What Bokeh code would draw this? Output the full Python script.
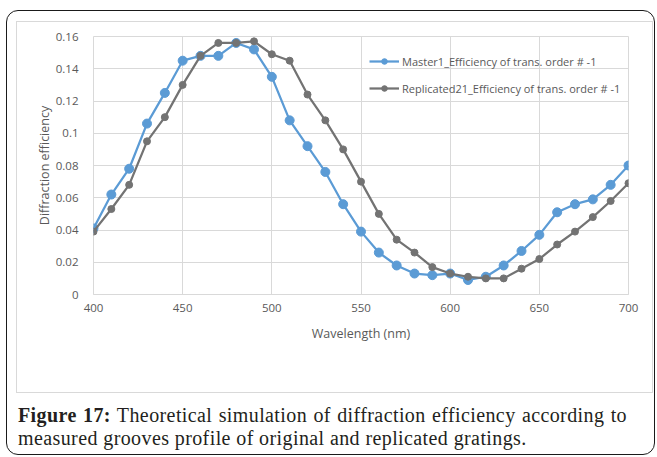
from bokeh.plotting import figure
from bokeh.models import Range1d, FixedTicker, Legend, LegendItem, Div
from bokeh.layouts import column
from bokeh.embed import file_html
from bokeh.resources import INLINE

# ---- data ----
wavelength = [400, 410, 420, 430, 440, 450, 460, 470, 480, 490, 500, 510, 520, 530, 540, 550,
              560, 570, 580, 590, 600, 610, 620, 630, 640, 650, 660, 670, 680, 690, 700]
master1 = [0.041, 0.062, 0.078, 0.106, 0.125, 0.145, 0.148, 0.148, 0.156, 0.152, 0.135, 0.108,
           0.092, 0.076, 0.056, 0.039, 0.026, 0.018, 0.013, 0.012, 0.013, 0.009, 0.011, 0.018,
           0.027, 0.037, 0.051, 0.056, 0.059, 0.068, 0.080]
replicated21 = [0.039, 0.053, 0.068, 0.095, 0.110, 0.130, 0.148, 0.156, 0.156, 0.157, 0.149, 0.145,
                0.124, 0.108, 0.090, 0.070, 0.050, 0.034, 0.026, 0.017, 0.013, 0.011, 0.010, 0.010,
                0.016, 0.022, 0.031, 0.039, 0.048, 0.058, 0.069]
series_names = ["Master1_Efficiency of trans. order # -1",
                "Replicated21_Efficiency of trans. order # -1"]
x_ticks = [400, 450, 500, 550, 600, 650, 700]
y_ticks = [0, 0.02, 0.04, 0.06, 0.08, 0.1, 0.12, 0.14, 0.16]
y_tick_labels = ["0", "0.02", "0.04", "0.06", "0.08", "0.1", "0.12", "0.14", "0.16"]
x_title = "Wavelength (nm)"
y_title = "Diffraction efficiency"
caption_bold = "Figure 17:"
caption_line1 = "Theoretical simulation of diffraction efficiency according to"
caption_line2 = "measured grooves profile of original and replicated gratings."

# ---- styles ----
BLUE = "#5B9BD5"
GRAY = "#737373"
GRID = "#d9d9d9"
TXT = "#595959"
FONT = "Open Sans"

p = figure(width=637, height=372, output_backend="svg", toolbar_location=None,
           x_range=Range1d(400, 700), y_range=Range1d(0, 0.16),
           min_border_left=76, min_border_right=26, min_border_top=14, min_border_bottom=100,
           background_fill_color="white", border_fill_color="white",
           margin=(10, 1, 0, 9), styles={"border": "1px solid #d9d9d9"})
p.outline_line_color = GRID
p.outline_line_width = 1

# grids
p.xgrid.ticker = FixedTicker(ticks=x_ticks)
p.ygrid.ticker = FixedTicker(ticks=y_ticks)
for g in (p.xgrid, p.ygrid):
    g.grid_line_color = GRID
    g.grid_line_width = 1

# axes
p.xaxis.ticker = FixedTicker(ticks=x_ticks)
p.yaxis.ticker = FixedTicker(ticks=y_ticks)
p.yaxis.major_label_overrides = {t: l for t, l in zip(y_ticks, y_tick_labels)}
for ax in (p.xaxis[0], p.yaxis[0]):
    ax.major_tick_line_color = None
    ax.minor_tick_line_color = None
    ax.major_tick_out = 0
    ax.major_tick_in = 0
    ax.major_label_text_font = FONT
    ax.major_label_text_font_size = "11.5px"
    ax.major_label_text_color = TXT
    ax.axis_label_text_font = FONT
    ax.axis_label_text_font_size = "12.5px"
    ax.axis_label_text_font_style = "normal"
    ax.axis_label_text_color = TXT
p.xaxis.axis_line_color = GRID
p.yaxis.axis_line_color = None
p.xaxis.axis_label = x_title
p.yaxis.axis_label = y_title
p.xaxis.major_label_standoff = 9
p.yaxis.major_label_standoff = 15
p.xaxis.axis_label_standoff = 10
p.yaxis.axis_label_standoff = 0

# series
l1 = p.line(wavelength, master1, line_color=BLUE, line_width=2.25)
s1 = p.scatter(wavelength, master1, size=9, fill_color=BLUE, line_color=BLUE)
l2 = p.line(wavelength, replicated21, line_color=GRAY, line_width=2.25)
s2 = p.scatter(wavelength, replicated21, size=7, fill_color=GRAY, line_color=GRAY)

legend = Legend(items=[LegendItem(label=series_names[0], renderers=[l1, s1]),
                       LegendItem(label=series_names[1], renderers=[l2, s2])],
                location=(276, 196), orientation="vertical",
                glyph_width=30, glyph_height=14, label_height=20, spacing=7,
                label_standoff=3, padding=0, margin=0,
                border_line_color=None, background_fill_alpha=0,
                label_text_font=FONT, label_text_font_size="11px", label_text_color=TXT)
p.add_layout(legend)

cap_style = ("font-family:'Liberation Serif';font-size:20px;line-height:23px;"
             "letter-spacing:0.4px;color:#231f20;")
cap_html = (f'<div style="{cap_style}width:609px;">'
            f'<div style="text-align:justify;text-align-last:justify;">'
            f'<b>{caption_bold}</b> {caption_line1}</div>'
            f'<div>{caption_line2}</div></div>')
cap = Div(text=cap_html, width=609, height=46, margin=(11, 0, 4, 11))

layout = column(p, cap, margin=(10, 0, 0, 6),
                styles={"border": "1.5px solid #1a1a1a", "border-radius": "12px"})

open("out.html", "w").write(file_html(layout, INLINE))
